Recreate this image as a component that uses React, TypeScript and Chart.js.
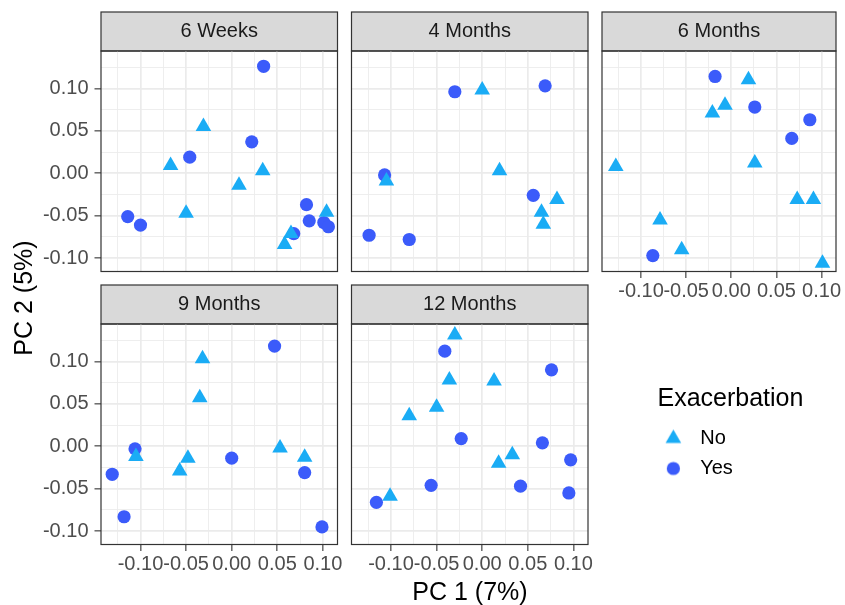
import React, { useEffect, useRef } from 'react';
import { Chart, registerables } from 'chart.js';
import { drawPoint } from 'chart.js/helpers';

Chart.register(...registerables);

// ---------------- data ----------------
const panelTitles = ['6 Weeks', '4 Months', '6 Months', '9 Months', '12 Months'];
const seriesLabels = ['No', 'Yes'];
const legendTitle = 'Exacerbation';
const xAxisTitle = 'PC 1 (7%)';
const yAxisTitle = 'PC 2 (5%)';

const majorTicks = [-0.1, -0.05, 0, 0.05, 0.1];
const tickLabels = ['-0.10', '-0.05', '0.00', '0.05', '0.10'];
const minorTicks = [-0.125, -0.075, -0.025, 0.025, 0.075, 0.125];
const xLimits = [-0.1433, 0.116];
const yLimits = [-0.1157, 0.144];

// 6 Weeks
const weeks6NoX = [-0.031, -0.067, -0.05, 0.008, 0.034, 0.104, 0.065, 0.058];
const weeks6NoY = [0.055, 0.009, -0.047, -0.014, 0.003, -0.046, -0.071, -0.084];
const weeks6YesX = [0.035, -0.046, 0.022, -0.114, -0.1, 0.082, 0.085, 0.101, 0.106, 0.068];
const weeks6YesY = [0.126, 0.019, 0.037, -0.051, -0.061, -0.037, -0.056, -0.058, -0.063, -0.071];

// 4 Months
const months4NoX = [0.0, -0.105, 0.019, 0.082, 0.065, 0.067];
const months4NoY = [0.098, -0.009, 0.003, -0.031, -0.046, -0.06];
const months4YesX = [-0.03, 0.069, -0.107, 0.056, -0.124, -0.08];
const months4YesY = [0.096, 0.103, -0.002, -0.026, -0.073, -0.078];

// 6 Months
const months6NoX = [0.019, -0.007, -0.021, -0.128, 0.026, 0.073, 0.091, -0.079, -0.055, 0.101];
const months6NoY = [0.11, 0.08, 0.071, 0.008, 0.012, -0.031, -0.031, -0.055, -0.09, -0.106];
const months6YesX = [-0.018, 0.026, 0.087, 0.067, -0.087];
const months6YesY = [0.114, 0.078, 0.063, 0.041, -0.097];

// 9 Months
const months9NoX = [-0.032, -0.035, -0.105, -0.048, -0.057, 0.053, 0.08];
const months9NoY = [0.103, 0.057, -0.012, -0.014, -0.029, -0.002, -0.013];
const months9YesX = [0.047, -0.106, -0.131, -0.118, 0.0, 0.08, 0.099];
const months9YesY = [0.118, -0.003, -0.033, -0.083, -0.014, -0.031, -0.095];

// 12 Months
const months12NoX = [-0.03, -0.036, 0.013, -0.05, -0.08, 0.033, 0.018, -0.101];
const months12NoY = [0.131, 0.078, 0.077, 0.046, 0.036, -0.01, -0.02, -0.059];
const months12YesX = [-0.041, 0.076, -0.023, 0.066, 0.097, -0.056, 0.042, 0.095, -0.116];
const months12YesY = [0.112, 0.09, 0.009, 0.004, -0.016, -0.046, -0.047, -0.055, -0.066];

const panelData = [
  { noX: weeks6NoX, noY: weeks6NoY, yesX: weeks6YesX, yesY: weeks6YesY },
  { noX: months4NoX, noY: months4NoY, yesX: months4YesX, yesY: months4YesY },
  { noX: months6NoX, noY: months6NoY, yesX: months6YesX, yesY: months6YesY },
  { noX: months9NoX, noY: months9NoY, yesX: months9YesX, yesY: months9YesY },
  { noX: months12NoX, noY: months12NoY, yesX: months12YesX, yesY: months12YesY },
];

// ---------------- styling / layout ----------------
const FONT = "'Liberation Sans', Arial, Helvetica, sans-serif";
const CANVAS_W = 845;
const CANVAS_H = 605;
const NO_COLOR = '#1AACF5';
const YES_COLOR = '#3B5BFA';
const COL_LEFT = [101, 351.5, 602];
const PANEL_W = 236.5;
const STRIP_TOP = [12, 285];
const STRIP_H = 39;
const PANEL_H = 220.5;
const X_AXIS_H = 32;
const panelPos = [
  { col: 0, row: 0, showX: false, showY: true },
  { col: 1, row: 0, showX: false, showY: false },
  { col: 2, row: 0, showX: true, showY: false },
  { col: 0, row: 1, showX: true, showY: true },
  { col: 1, row: 1, showX: true, showY: false },
];

const isMajor = (v: any) =>
  typeof v === 'number' && majorTicks.some((m) => Math.abs(m - v) < 1e-9);
const labelFor = (v: number) => {
  const i = majorTicks.findIndex((m) => Math.abs(m - v) < 1e-9);
  return i >= 0 ? tickLabels[i] : '';
};

const panelFrame = {
  id: 'panelFrame',
  beforeDraw(chart: any) {
    const t = chart.titleBlock;
    const ctx = chart.ctx;
    if (t && t.options && t.options.display) {
      ctx.save();
      ctx.fillStyle = '#D9D9D9';
      ctx.fillRect(t.left, t.top, t.width, t.height);
      ctx.strokeStyle = '#333333';
      ctx.lineWidth = 1.2;
      ctx.strokeRect(t.left, t.top, t.width, t.height);
      ctx.restore();
    }
  },
  afterDatasetsDraw(chart: any) {
    const a = chart.chartArea;
    const ctx = chart.ctx;
    ctx.save();
    ctx.strokeStyle = '#333333';
    ctx.lineWidth = 1.2;
    ctx.strokeRect(a.left, a.top, a.right - a.left, a.bottom - a.top);
    ctx.restore();
  },
};

// the legend box is only as wide as its items; widen it so its title is not clipped
const widenLegend = {
  id: 'widenLegend',
  beforeDraw(chart: any) {
    const l = chart.legend;
    if (l) {
      l.width = 185;
      l.right = l.left + 185;
    }
  },
};

function makeAxis(kind: 'x' | 'y', show: boolean, limits: number[], yAxisW: number) {
  const gridValues = [...majorTicks, ...minorTicks]
    .filter((v) => v >= limits[0] && v <= limits[1])
    .sort((a, b) => a - b);
  return {
    type: 'linear',
    min: limits[0],
    max: limits[1],
    border: { display: false },
    grid: {
      color: '#EBEBEB',
      lineWidth: (c: any) => (c.tick && isMajor(c.tick.value) ? 1.7 : 0.85),
      drawTicks: show,
      tickLength: 6.5,
      tickWidth: 1.1,
      tickColor: (c: any) =>
        show && c.tick && isMajor(c.tick.value) ? '#333333' : 'rgba(0,0,0,0)',
    },
    ticks: {
      display: show,
      autoSkip: false,
      maxRotation: 0,
      minRotation: 0,
      padding: kind === 'y' ? 6 : 1,
      color: '#4D4D4D',
      font: { family: FONT, size: 20 },
      callback: (v: number) => labelFor(v),
    },
    afterBuildTicks: (scale: any) => {
      scale.ticks = gridValues.map((value) => ({ value }));
    },
    afterFit: (scale: any) => {
      if (kind === 'x') scale.height = show ? X_AXIS_H : 0;
      else scale.width = show ? yAxisW : 0;
      scale.paddingLeft = 0;
      scale.paddingRight = 0;
      scale.paddingTop = 0;
      scale.paddingBottom = 0;
    },
  };
}

function makePanelConfig(i: number): any {
  const p = panelPos[i];
  const d = panelData[i];
  const left = COL_LEFT[p.col];
  const top = STRIP_TOP[p.row];
  const plotBottom = top + STRIP_H + PANEL_H;
  const xAxisH = p.showX ? X_AXIS_H : 0;
  const yAxisW = p.showY ? left : 0;
  return {
    type: 'scatter',
    data: {
      datasets: [
        {
          label: seriesLabels[0],
          data: d.noX.map((x, k) => ({ x, y: d.noY[k] })),
          pointStyle: 'triangle',
          pointRadius: 9,
          pointHoverRadius: 9,
          backgroundColor: NO_COLOR,
          borderColor: NO_COLOR,
          pointBorderWidth: 0,
        },
        {
          label: seriesLabels[1],
          data: d.yesX.map((x, k) => ({ x, y: d.yesY[k] })),
          pointStyle: 'circle',
          pointRadius: 6.6,
          pointHoverRadius: 6.6,
          backgroundColor: YES_COLOR,
          borderColor: YES_COLOR,
          pointBorderWidth: 0,
        },
      ],
    },
    options: {
      responsive: false,
      animation: false,
      devicePixelRatio: 1,
      events: [],
      layout: {
        padding: {
          left: left - yAxisW,
          top,
          right: CANVAS_W - left - PANEL_W,
          bottom: CANVAS_H - plotBottom - xAxisH,
        },
      },
      plugins: {
        legend: { display: false },
        tooltip: { enabled: false },
        title: {
          display: true,
          text: panelTitles[i],
          fullSize: false,
          color: '#1A1A1A',
          font: { family: FONT, size: 20, weight: 'normal', lineHeight: 1.2 },
          padding: { top: 7.5, bottom: 7.5 },
        },
      },
      scales: {
        x: makeAxis('x', p.showX, xLimits, yAxisW),
        y: makeAxis('y', p.showY, yLimits, yAxisW),
      },
    },
    plugins: [panelFrame],
  };
}

function markerImage(style: string, radius: number, color: string) {
  const c = document.createElement('canvas');
  c.width = 40;
  c.height = 24;
  const ctx = c.getContext('2d') as CanvasRenderingContext2D;
  ctx.fillStyle = color;
  drawPoint(ctx, { pointStyle: style, radius, rotation: 0, borderWidth: 0 } as any, 14.5, 12);
  return c;
}

function makeLegendConfig(): any {
  const images = [markerImage('triangle', 9, NO_COLOR), markerImage('circle', 6.6, YES_COLOR)];
  const colors = [NO_COLOR, YES_COLOR];
  return {
    type: 'scatter',
    data: { datasets: [] },
    options: {
      responsive: false,
      animation: false,
      devicePixelRatio: 1,
      events: [],
      layout: { padding: { left: 657.5, top: 386.5, right: 0, bottom: 0 } },
      scales: { x: { display: false }, y: { display: false } },
      plugins: {
        tooltip: { enabled: false },
        legend: {
          display: true,
          position: 'left',
          align: 'start',
          maxWidth: 300,
          title: {
            display: true,
            text: legendTitle,
            position: 'start',
            color: '#000000',
            font: { family: FONT, size: 25, weight: 'normal' },
            padding: { top: 0, bottom: 2 },
          },
          labels: {
            usePointStyle: true,
            pointStyleWidth: 22.7,
            padding: 10,
            color: '#000000',
            font: { family: FONT, size: 20 },
            generateLabels: () =>
              seriesLabels.map((text, k) => ({
                text,
                fillStyle: colors[k],
                strokeStyle: colors[k],
                fontColor: '#000000',
                lineWidth: 0,
                pointStyle: images[k],
                hidden: false,
                datasetIndex: k,
              })),
          },
        },
      },
    },
    plugins: [widenLegend],
  };
}

export default function App() {
  const refs = useRef<(HTMLCanvasElement | null)[]>([]);

  useEffect(() => {
    const charts: Chart[] = [];
    panelTitles.forEach((_, i) => {
      const cv = refs.current[i];
      if (cv) charts.push(new Chart(cv, makePanelConfig(i)));
    });
    const lc = refs.current[panelTitles.length];
    if (lc) charts.push(new Chart(lc, makeLegendConfig()));
    return () => charts.forEach((c) => c.destroy());
  }, []);

  const canvasStyle: React.CSSProperties = {
    position: 'absolute',
    left: 0,
    top: 0,
    width: CANVAS_W,
    height: CANVAS_H,
  };

  return (
    <div
      style={{
        position: 'absolute',
        left: 0,
        top: 0,
        width: CANVAS_W,
        height: CANVAS_H,
        background: '#ffffff',
        fontFamily: FONT,
        overflow: 'hidden',
      }}
    >
      {[...panelTitles, 'legend'].map((k, i) => (
        <canvas
          key={k}
          ref={(el) => {
            refs.current[i] = el;
          }}
          width={CANVAS_W}
          height={CANVAS_H}
          style={canvasStyle}
        />
      ))}
      <div
        style={{
          position: 'absolute',
          left: 22.5 - 100,
          top: 298 - 15,
          width: 200,
          height: 30,
          lineHeight: '30px',
          fontSize: 25,
          textAlign: 'center',
          color: '#000',
          transform: 'rotate(-90deg)',
          transformOrigin: 'center',
          whiteSpace: 'nowrap',
        }}
      >
        {yAxisTitle}
      </div>
      <div
        style={{
          position: 'absolute',
          left: 470 - 100,
          top: 576.3,
          width: 200,
          height: 30,
          lineHeight: '30px',
          fontSize: 25,
          textAlign: 'center',
          color: '#000',
          whiteSpace: 'nowrap',
        }}
      >
        {xAxisTitle}
      </div>
    </div>
  );
}
